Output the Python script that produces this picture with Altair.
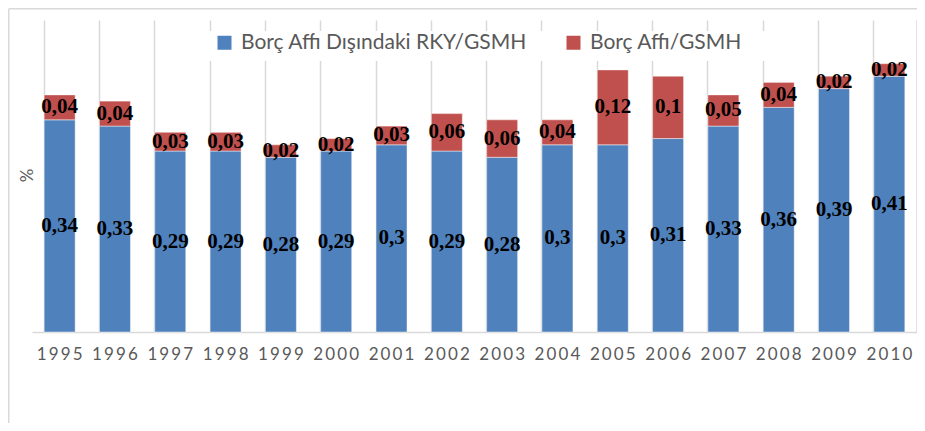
import altair as alt
import pandas as pd

years = [str(y) for y in range(1995, 2011)]
blue_vals = [0.34, 0.33, 0.29, 0.29, 0.28, 0.29, 0.30, 0.29, 0.28, 0.30, 0.30, 0.31, 0.33, 0.36, 0.39, 0.41]
red_vals = [0.04, 0.04, 0.03, 0.03, 0.02, 0.02, 0.03, 0.06, 0.06, 0.04, 0.12, 0.10, 0.05, 0.04, 0.02, 0.02]
series = ["Borç Affı Dışındaki RKY/GSMH", "Borç Affı/GSMH"]
colors = ["#4F81BD", "#C0504D"]

rows = []
for y, b, r in zip(years, blue_vals, red_vals):
    rows.append({"year": y, "series": series[0], "start": 0, "end": b, "mid": b / 2,
                 "label": str(b).replace(".", ",")})
    rows.append({"year": y, "series": series[1], "start": b, "end": b + r, "mid": b + r / 2,
                 "label": str(r).replace(".", ",")})
df = pd.DataFrame(rows)

W, H = 885, 312
GRID = "#d9d9d9"

x_enc = alt.X("year:N", sort=years, title=None,
              scale=alt.Scale(paddingInner=0.44, paddingOuter=0.22),
              axis=alt.Axis(labelAngle=0, ticks=False, grid=True, bandPosition=0,
                            gridColor=GRID, gridWidth=1.5, domainColor=GRID, domainWidth=1.5,
                            labelColor="#595959", labelFont="Lato", labelFontSize=17,
                            labelPadding=14,
                            labelExpr="join(split(datum.label,''),'\u2009')"))
y_scale = alt.Scale(domain=[0, 0.5], nice=False, zero=True)

base = alt.Chart(df)

bars = base.mark_bar(stroke="white", strokeWidth=0.75, strokeOpacity=0.6).encode(
    x=x_enc,
    y=alt.Y("start:Q", scale=y_scale, title="%",
            axis=alt.Axis(labels=False, ticks=False, domain=False, grid=False,
                          titleColor="#595959", titleFont="Lato", titleFontSize=17,
                          titleFontWeight="normal", titleAngle=270, titleX=-5, titleY=155,
                          titleAlign="center", titleBaseline="middle")),
    y2="end:Q",
    color=alt.Color("series:N", scale=alt.Scale(domain=series, range=colors),
                    legend=alt.Legend(title=None, orient="none", direction="horizontal",
                                      legendX=182, legendY=12, symbolType="square",
                                      symbolSize=196, symbolStrokeWidth=0,
                                      labelFont="Lato", labelFontSize=21, labelColor="#595959",
                                      labelOffset=6, columnPadding=36, labelLimit=400)),
)

text = base.mark_text(font="Liberation Serif", fontWeight="bold", fontSize=21,
                      color="black", baseline="middle").encode(
    x=alt.X("year:N", sort=years),
    y=alt.Y("mid:Q", scale=y_scale),
    text="label:N",
)

one = alt.Chart(pd.DataFrame({"k": [0]}))
legend_bg = one.mark_rect(color="white").encode(
    x=alt.value(160), x2=alt.value(735), y=alt.value(11), y2=alt.value(41))
right_grid = one.mark_rule(color=GRID, strokeWidth=1.5).encode(
    x=alt.value(W), y=alt.value(0), y2=alt.value(H))
frame_left = one.mark_rule(color=GRID, strokeWidth=1.5).encode(
    x=alt.value(-23.25), y=alt.value(-11.25), y2=alt.value(H + 91))
frame_top = one.mark_rule(color=GRID, strokeWidth=1.5).encode(
    x=alt.value(-23.25), x2=alt.value(W), y=alt.value(-11.25))

chart = alt.layer(legend_bg, right_grid, bars, text, frame_left, frame_top).properties(
    width=W, height=H,
    autosize=alt.AutoSizeParams(type="none"),
    padding={"left": 24, "top": 12, "right": 0, "bottom": 91},
).configure_view(stroke=None)

chart.save("out.html", embed_options={"renderer": "svg", "actions": False})
